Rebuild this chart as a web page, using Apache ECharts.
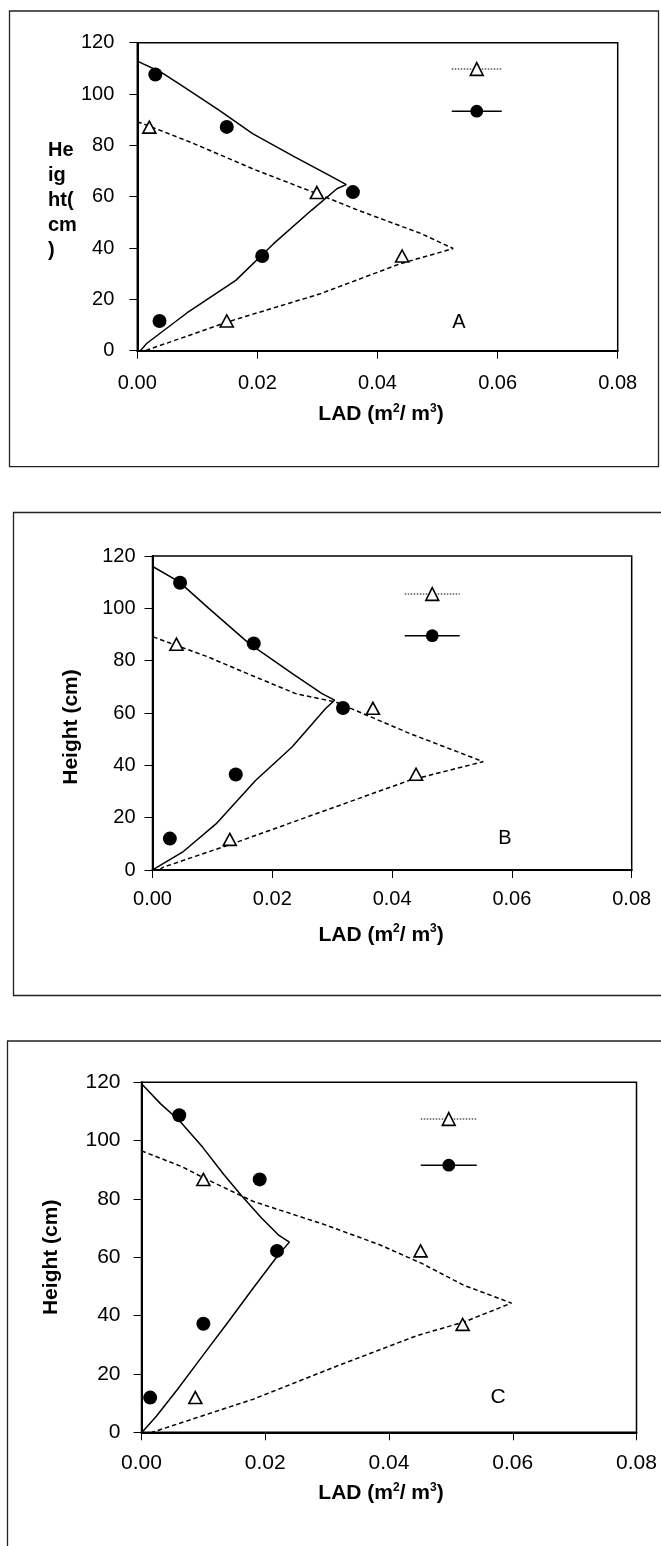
<!DOCTYPE html>
<html>
<head>
<meta charset="utf-8">
<script src="https://cdn.jsdelivr.net/npm/echarts@6/dist/echarts.min.js"></script>
<style>
html,body{margin:0;padding:0;background:#fff}
#c{width:661px;height:1546px}
</style>
</head>
<body>
<div id="c"></div>
<script>
// ---------------- data ----------------
const panelLetters = ['A', 'B', 'C'];
const ladRange = [0, 0.08];
const ladInterval = 0.02;
const heightRange = [0, 120];
const heightInterval = 20;

// observed points [LAD, height]
const A_triangles = [[0.0020, 87.1], [0.0299, 61.6], [0.0441, 36.9], [0.0149, 11.6]];
const A_circles   = [[0.0030, 107.6], [0.0149, 87.2], [0.0359, 61.8], [0.0208, 36.9], [0.0037, 11.6]];
const B_triangles = [[0.0040, 86.3], [0.0368, 61.8], [0.0440, 36.6], [0.0129, 11.7]];
const B_circles   = [[0.0046, 109.8], [0.0169, 86.6], [0.0318, 61.9], [0.0139, 36.5], [0.0029, 12.0]];
const C_triangles = [[0.0100, 86.7], [0.0451, 62.2], [0.0519, 37.0], [0.0087, 11.9]];
const C_circles   = [[0.0061, 108.7], [0.0191, 86.7], [0.0219, 62.2], [0.0100, 37.2], [0.0014, 11.9]];

// model profiles [LAD, height]
const A_dashedLine = [[0, 89.2], [0.0020, 87.5], [0.0094, 80.7], [0.0195, 70.6], [0.0299, 61.2], [0.0368, 54.7], [0.0473, 45.6], [0.0526, 39.8], [0.0438, 33.9], [0.0305, 22.2], [0.0150, 11.2], [0.0104, 7.4], [0.0013, 0]];
const A_solidLine  = [[0, 112.8], [0.0038, 108.7], [0.0073, 103.5], [0.0136, 93.7], [0.0192, 84.6], [0.0262, 75.5], [0.0319, 68.4], [0.0348, 64.7], [0.0333, 63.2], [0.0290, 54.7], [0.0227, 41.7], [0.0164, 27.4], [0.0082, 14.6], [0.0038, 6.8], [0.0016, 2.9], [0.0005, 0]];
const B_dashedLine = [[0.0001, 89.1], [0.0039, 85.9], [0.0092, 81.5], [0.0161, 74.8], [0.0239, 67.4], [0.0278, 65.5], [0.0306, 64.2], [0.0428, 52.3], [0.0552, 41.4], [0.0428, 34.2], [0.0272, 21.4], [0.0133, 10.0], [0.0017, 1.0], [0.0012, 0]];
const B_solidLine  = [[0.0001, 115.9], [0.0044, 110.2], [0.0094, 100.0], [0.0161, 86.6], [0.0233, 75.1], [0.0283, 67.4], [0.0304, 64.9], [0.0289, 61.7], [0.0233, 47.0], [0.0172, 34.2], [0.0106, 17.6], [0.0050, 6.8], [0.0003, 0.4], [0, 0]];
const C_dashedLine = [[0, 96.5], [0.0065, 91.1], [0.0100, 87.3], [0.0180, 79.2], [0.0296, 71.2], [0.0385, 64.3], [0.0453, 57.9], [0.0521, 50.4], [0.0598, 44.3], [0.0521, 37.8], [0.0446, 33.2], [0.0317, 22.8], [0.0180, 11.3], [0.0017, 0]];
const C_solidLine  = [[0, 119.5], [0.0031, 112.6], [0.0061, 106.9], [0.0099, 97.7], [0.0133, 88.4], [0.0160, 81.5], [0.0194, 73.5], [0.0221, 67.7], [0.0239, 65.2], [0.0221, 60.8], [0.0180, 49.3], [0.0140, 37.8], [0.0099, 26.3], [0.0058, 14.7], [0.0024, 5.5], [0.0002, 0.3]];

const triangles   = [A_triangles, B_triangles, C_triangles];
const circles     = [A_circles, B_circles, C_circles];
const dashedLines = [A_dashedLine, B_dashedLine, C_dashedLine];
const solidLines  = [A_solidLine, B_solidLine, C_solidLine];

const xTitle = '{b|LAD (m}{sup|2}{b|/ m}{sup|3}{b|)}';
const yTitles = ['He\nig\nht(\ncm\n)', 'Height (cm)', 'Height (cm)'];

// ---------------- layout ----------------
const FONT = 'Liberation Sans, Arial, Helvetica, sans-serif';
const grids = [
  { left: 137.3, top: 42.7, width: 480.4, height: 308 },
  { left: 152.5, top: 556, width: 479.2, height: 314 },
  { left: 141.5, top: 1082.3, width: 495, height: 350 }
];
const yLabelSize = [20, 20, 21];
const xLabelSize = [20, 20, 21];
const yLabelMargin = [23, 17, 21];
const xLabelMargin = [23, 19.5, 20];
const xNameGap = [52, 53, 49];
const xNamePad = [[0, 0, 0, 7], [0, 22, 0, 0], [0, 16, 0, 0]];
const legendPos = [
  { left: 451, top: 61, itemWidth: 50, itemGap: 27 },
  { left: 404, top: 586, itemWidth: 55, itemGap: 26.5 },
  { left: 420, top: 1111, itemWidth: 56, itemGap: 31 }
];
const letterPos = [[459, 322, 20], [505, 838, 20], [498, 1397, 21]];
const frames = [
  { x: 9.5, y: 11, width: 649, height: 455.7 },
  { x: 13.5, y: 512.5, width: 700, height: 483 },
  { x: 7.5, y: 1041, width: 700, height: 600 }
];

const rich = {
  b: { fontFamily: FONT, fontSize: 21, fontWeight: 'bold', color: '#000', lineHeight: 24 },
  sup: { fontFamily: FONT, fontSize: 12, fontWeight: 'bold', color: '#000', verticalAlign: 'top', lineHeight: 12 }
};

const xAxes = [], yAxes = [], series = [], legends = [], graphics = [];

panelLetters.forEach((L, i) => {
  xAxes.push({
    gridIndex: i, type: 'value', min: ladRange[0], max: ladRange[1], interval: ladInterval,
    name: xTitle, nameLocation: 'middle', nameGap: xNameGap[i],
    nameTextStyle: { rich: rich, padding: xNamePad[i] },
    axisLine: { show: true, onZero: false, lineStyle: { color: '#000', width: 2 } },
    axisTick: { show: true, inside: false, length: 8, lineStyle: { color: '#000', width: 1 } },
    axisLabel: { fontFamily: FONT, fontSize: xLabelSize[i], color: '#000', margin: xLabelMargin[i],
      formatter: v => v.toFixed(2) },
    splitLine: { show: false }
  });
  const yName = i === 0
    ? { name: '' }
    : { name: yTitles[i], nameLocation: 'middle', nameGap: i === 1 ? 69.5 : 78,
        nameTextStyle: { fontFamily: FONT, fontSize: 21, fontWeight: 'bold', color: '#000', lineHeight: 24, padding: i === 1 ? [0, 28, 0, 0] : [0, 0, 0, 0] } };
  yAxes.push(Object.assign({
    gridIndex: i, type: 'value', min: heightRange[0], max: heightRange[1], interval: heightInterval,
    axisLine: { show: true, onZero: false, lineStyle: { color: '#000', width: 2 } },
    axisTick: { show: true, inside: false, length: 8, lineStyle: { color: '#000', width: 1 } },
    axisLabel: { fontFamily: FONT, fontSize: yLabelSize[i], color: '#000', margin: yLabelMargin[i] },
    splitLine: { show: false }
  }, yName));

  const tName = L + ' observed (triangles)';
  const cName = L + ' observed (circles)';
  series.push({
    type: 'line', name: L + ' profile (dashed)', xAxisIndex: i, yAxisIndex: i,
    data: dashedLines[i], symbol: 'none', showSymbol: false, silent: true, z: 2,
    lineStyle: { color: '#000', width: 1.5, type: [4.5, 3] }
  });
  series.push({
    type: 'line', name: L + ' profile (solid)', xAxisIndex: i, yAxisIndex: i,
    data: solidLines[i], symbol: 'none', showSymbol: false, silent: true, z: 2,
    lineStyle: { color: '#000', width: 1.5, type: 'solid' }
  });
  series.push({
    type: 'line', name: tName, xAxisIndex: i, yAxisIndex: i,
    data: triangles[i], symbol: 'triangle', symbolSize: [13, 12], showSymbol: true, silent: true, z: 4,
    lineStyle: { width: 0, opacity: 0 },
    itemStyle: { color: '#fff', borderColor: '#000', borderWidth: 1.6 }
  });
  series.push({
    type: 'line', name: cName, xAxisIndex: i, yAxisIndex: i,
    data: circles[i], symbol: 'circle', symbolSize: 14, showSymbol: true, silent: true, z: 4,
    lineStyle: { width: 0, opacity: 0 },
    itemStyle: { color: '#000', borderWidth: 0 }
  });

  legends.push({
    left: legendPos[i].left, top: legendPos[i].top, orient: 'vertical',
    itemWidth: legendPos[i].itemWidth, itemHeight: 16, itemGap: legendPos[i].itemGap,
    padding: 0, selectedMode: false, formatter: () => '',
    data: [
      { name: tName, lineStyle: { type: [1.5, 1.5], width: 1, color: '#000', opacity: 1 },
        itemStyle: { color: '#fff', borderColor: '#000', borderWidth: 1.6, opacity: 1 } },
      { name: cName, lineStyle: { type: 'solid', width: 1.5, color: '#000', opacity: 1 },
        itemStyle: { color: '#000', borderWidth: 0, opacity: 1 } }
    ]
  });

  graphics.push({
    type: 'rect', silent: true, z: -1,
    shape: frames[i],
    style: { fill: 'none', stroke: '#222', lineWidth: 1.3 }
  });
  graphics.push({
    type: 'text', silent: true, x: letterPos[i][0], y: letterPos[i][1],
    style: { text: L, fontFamily: FONT, fontSize: letterPos[i][2], fill: '#000', align: 'center', verticalAlign: 'middle' }
  });
});

// panel A height title (wrapped, left aligned as in the original)
graphics.push({
  type: 'text', silent: true, x: 48, y: 137.5,
  style: { text: yTitles[0], fontFamily: FONT, fontSize: 20, fontWeight: 'bold', fill: '#000',
    align: 'left', verticalAlign: 'top', lineHeight: 25 }
});

const chart = echarts.init(document.getElementById('c'), null, { renderer: 'canvas' });
chart.setOption({
  animation: false,
  backgroundColor: '#fff',
  grid: grids.map(g => Object.assign({ show: true, borderColor: '#000', borderWidth: 1.5, backgroundColor: 'transparent', containLabel: false }, g)),
  xAxis: xAxes,
  yAxis: yAxes,
  legend: legends,
  series: series,
  graphic: graphics
});
</script>
</body>
</html>
